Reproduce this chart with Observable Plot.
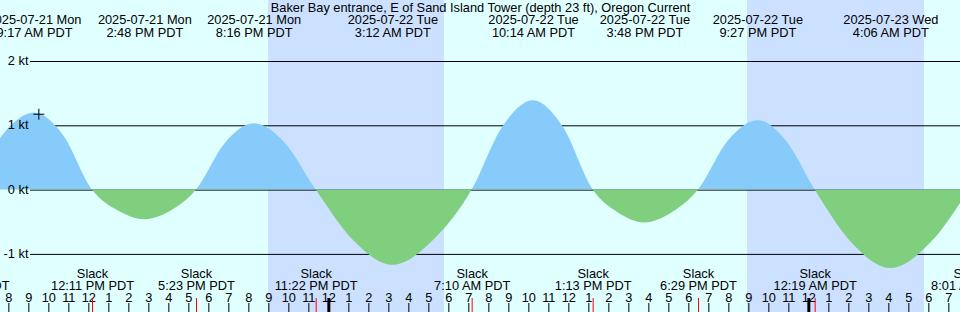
<!DOCTYPE html>
<html><head><meta charset="utf-8">
<script src="https://cdn.jsdelivr.net/npm/d3@7"></script>
<script src="https://cdn.jsdelivr.net/npm/@observablehq/plot@0.6"></script>
<style>body{margin:0;background:#e0ffff;} #chart svg{display:block;overflow:hidden}</style>
</head><body><div id="chart"></div>
<script>
const title = "Baker Bay entrance, E of Sand Island Tower (depth 23 ft), Oregon Current";
const windowStart = "2025-07-21 07:35";
const windowEnd = "2025-07-23 07:35";

const extremeTimes = ["2025-07-21 09:17","2025-07-21 14:48","2025-07-21 20:16","2025-07-22 03:12","2025-07-22 10:14","2025-07-22 15:48","2025-07-22 21:27","2025-07-23 04:06"];
const extremeDays = ["2025-07-21 Mon","2025-07-21 Mon","2025-07-21 Mon","2025-07-22 Tue","2025-07-22 Tue","2025-07-22 Tue","2025-07-22 Tue","2025-07-23 Wed"];
const extremeClocks = ["9:17 AM PDT","2:48 PM PDT","8:16 PM PDT","3:12 AM PDT","10:14 AM PDT","3:48 PM PDT","9:27 PM PDT","4:06 AM PDT"];

const slackTimes = ["2025-07-21 06:08","2025-07-21 12:11","2025-07-21 17:23","2025-07-21 23:22","2025-07-22 07:10","2025-07-22 13:13","2025-07-22 18:29","2025-07-23 00:19","2025-07-23 08:01"];
const slackClocks = ["6:08 AM PDT","12:11 PM PDT","5:23 PM PDT","11:22 PM PDT","7:10 AM PDT","1:13 PM PDT","6:29 PM PDT","12:19 AM PDT","8:01 AM PDT"];

const curveTimes = ["2025-07-21 06:08","2025-07-21 07:42","2025-07-21 09:17","2025-07-21 10:44","2025-07-21 12:11","2025-07-21 13:30","2025-07-21 14:48","2025-07-21 16:06","2025-07-21 17:23","2025-07-21 18:50","2025-07-21 20:16","2025-07-21 21:49","2025-07-21 23:22","2025-07-22 01:17","2025-07-22 03:12","2025-07-22 05:11","2025-07-22 07:10","2025-07-22 08:42","2025-07-22 10:14","2025-07-22 11:43","2025-07-22 13:13","2025-07-22 14:30","2025-07-22 15:48","2025-07-22 17:08","2025-07-22 18:29","2025-07-22 19:58","2025-07-22 21:27","2025-07-22 22:53","2025-07-23 00:19","2025-07-23 02:12","2025-07-23 04:06","2025-07-23 06:03","2025-07-23 08:01"];
const curveSpeeds = [0,0.85,1.2,0.85,0,-0.33,-0.46,-0.33,0,0.73,1.03,0.73,0,-0.8,-1.17,-0.8,0,0.98,1.39,0.98,0,-0.36,-0.51,-0.36,0,0.76,1.08,0.76,0,-0.84,-1.22,-0.84,0];

const nightStarts = ["2025-07-21 20:59","2025-07-22 20:56"];
const nightEnds = ["2025-07-22 05:47","2025-07-23 05:47"];
const gridSpeeds = [-1,0,1,2];
const gridLabels = ["-1 kt","0 kt","1 kt","2 kt"];
const markerTimes = ["2025-07-21 09:30"];
const markerSpeeds = [1.18];

const parse = d3.utcParse("%Y-%m-%d %H:%M");
const FS = 12.8;
const curve = curveTimes.map((t,i)=>({t:parse(t), v:curveSpeeds[i]}));
const extremes = extremeTimes.map((t,i)=>({t:parse(t), label: extremeDays[i]+"\n"+extremeClocks[i]}));
const slacks = slackTimes.map((t,i)=>({t:parse(t), label:"Slack\n"+slackClocks[i]}));
const nights = nightStarts.map((s,i)=>({x1:parse(s), x2:parse(nightEnds[i])}));
const grid = gridSpeeds.map((v,i)=>({v, label:gridLabels[i]}));
const marker = markerTimes.map((t,i)=>({t:parse(t), v:markerSpeeds[i]}));
const x0 = parse(windowStart), x1 = parse(windowEnd);
const hours = d3.utcHour.range(d3.utcHour.offset(x0,-1), d3.utcHour.offset(x1,2));
const midnights = hours.filter(d=>d.getUTCHours()===0);
const hourLabel = d => String(d.getUTCHours()%12 || 12);

const plusSymbol = {draw(ctx, size){ const r = Math.sqrt(size/Math.PI); ctx.moveTo(-r,0); ctx.lineTo(r,0); ctx.moveTo(0,-r); ctx.lineTo(0,r);} };

const plot = Plot.plot({
  width:960, height:312, margin:0,
  x:{type:"utc", domain:[x0,x1], axis:null},
  y:{domain:[-1.9036,2.9487], axis:null},
  style:{background:"#e0ffff", fontFamily:"'Liberation Sans', Arial, sans-serif", fontSize:FS+"px", color:"black"},
  marks:[
    Plot.rect(nights, {x1:"x1", x2:"x2", fill:"#cce0ff"}),
    Plot.ruleY(grid, {y:"v", stroke:"black", insetLeft:30}),
    Plot.areaY(curve, {x:"t", y:"v", fill:"#87cbfa", curve:"monotone-x"}),
    Plot.areaY(curve, {x:"t", y:"v", fill:"#7fcf7f", curve:"monotone-x"}),
    Plot.dot(marker, {x:"t", y:"v", symbol:plusSymbol, r:5.5, stroke:"black", strokeWidth:1, fill:"none"}),
    Plot.text(grid, {y:"v", text:"label", frameAnchor:"left", textAnchor:"end", dx:28, dy:-0.5, fontSize:FS}),
    Plot.text([title], {text:d=>d, frameAnchor:"top", lineAnchor:"top", dy:2.6, fontSize:FS}),
    Plot.text(extremes, {x:"t", text:"label", frameAnchor:"top", lineAnchor:"top", dy:15.1, lineHeight:0.96, fontSize:FS}),
    Plot.text(slacks, {x:"t", text:"label", frameAnchor:"bottom", lineAnchor:"top", dy:-43.3, lineHeight:0.94, fontSize:FS}),
    Plot.text(hours, {x:d=>d, text:hourLabel, frameAnchor:"bottom", lineAnchor:"top", dy:-19.3, fontSize:FS}),
    Plot.ruleX(hours, {x:d=>d, stroke:"black", insetTop:303}),
    Plot.ruleX(midnights, {x:d=>d, stroke:"black", strokeWidth:3, insetTop:298}),
    Plot.ruleX(slacks, {x:"t", stroke:"red", insetTop:298})
  ]
});

// clip flood (blue) above zero, ebb (green) below zero
const y0 = plot.scale("y").apply(0);
const svg = d3.select(plot);
const defs = svg.insert("defs", ":first-child");
defs.append("clipPath").attr("id","clipAbove").append("rect").attr("x",0).attr("y",0).attr("width",960).attr("height",y0);
defs.append("clipPath").attr("id","clipBelow").append("rect").attr("x",0).attr("y",y0).attr("width",960).attr("height",312-y0);
const areas = svg.selectAll("g[aria-label='area']").nodes();
if (areas[0]) areas[0].setAttribute("clip-path","url(#clipAbove)");
if (areas[1]) areas[1].setAttribute("clip-path","url(#clipBelow)");
document.getElementById("chart").appendChild(plot);
</script></body></html>
